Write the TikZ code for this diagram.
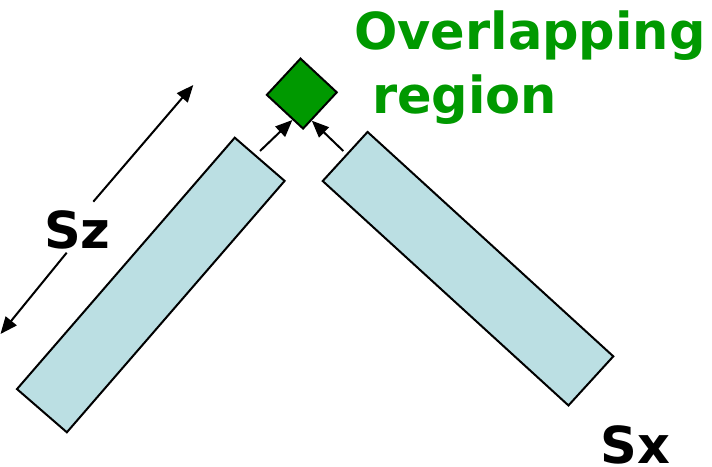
\documentclass[tikz,border=0pt]{standalone}
\usepackage{fontspec}
\setmainfont{DejaVu Sans}
\usetikzlibrary{arrows.meta,calc}
\definecolor{barfill}{HTML}{BBDFE3}
\definecolor{ovgreen}{HTML}{009900}
\tikzset{
  bar/.style={draw=black, line width=2bp, fill=barfill, rectangle, inner sep=0pt},
  ovbox/.style={draw=black, line width=2bp, fill=ovgreen, rectangle, inner sep=0pt, minimum size=49.5bp, rotate=47.1},
  arr/.style={line width=2bp, -{Triangle[length=17bp,width=14bp]}},
  bigtxt/.style={inner sep=0pt, anchor=base west, font=\fontsize{51bp}{60bp}\selectfont\bfseries},
}
\begin{document}
\begin{tikzpicture}[x=1bp,y=1bp]
\useasboundingbox (0,0) rectangle (712,467);
% bars
\node[bar, minimum width=332.6bp, minimum height=66bp, rotate=49.1] (lbar) at (150.8,182) {};
\node[bar, minimum width=332.8bp, minimum height=66.5bp, rotate=-42.4] (rbar) at (468,198.3) {};
% overlapping region
\node[ovbox] (dia) at (301.8,373.4) {};
% arrows to the region
\coordinate (la) at (260,316);
\coordinate (ra) at (343.3,316);
\draw[arr] (la) -- ($(dia.north west)!0.715!(dia.south west)$);
\draw[arr] (ra) -- ($(dia.south west)!0.247!(dia.south east)$);
% labels
\node[bigtxt, text=ovgreen] (ov) at (354,417) {Overlapping};
\node[bigtxt, text=ovgreen] (reg) at (372,353.7) {region};
\node[bigtxt] (sz) at (44,218.7) {Sz};
\node[bigtxt] (sx) at (600.5,3.5) {Sx};
% Sz dimension arrows
\coordinate (szu) at (93.3,265.3);
\coordinate (szut) at (193.3,382);
\coordinate (szl) at (66.7,214.3);
\coordinate (szlt) at (0.5,133);
\draw[arr] (szu) -- (szut);
\draw[arr] (szl) -- (szlt);
\end{tikzpicture}
\end{document}
